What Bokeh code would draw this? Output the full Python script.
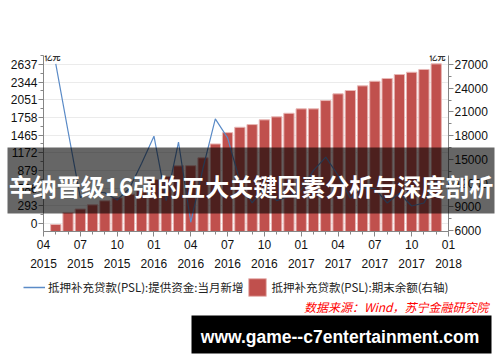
from bokeh.plotting import figure
from bokeh.models import (Range1d, LinearAxis, FixedTicker, Label, BoxAnnotation,
                          Legend, LegendItem, ColumnDataSource, Grid, GridBox)
from bokeh.embed import file_html
from bokeh.resources import INLINE

# ---------------- data ----------------
months = ["2015-05", "2015-06", "2015-07", "2015-08", "2015-09", "2015-10", "2015-11", "2015-12",
          "2016-01", "2016-02", "2016-03", "2016-04", "2016-05", "2016-06", "2016-07", "2016-08",
          "2016-09", "2016-10", "2016-11", "2016-12", "2017-01", "2017-02", "2017-03", "2017-04",
          "2017-05", "2017-06", "2017-07", "2017-08", "2017-09", "2017-10", "2017-11", "2017-12"]
# PSL: 提供资金: 当月新增 (亿元, left axis)
psl_new = [2648, 1530, 430, 530, 510, 390, 580, 1000,
           1447, 380, 1348, 20, 920, 1736, 1420, 700,
           340, 590, 380, 450, 560, 880, 1100, 800,
           420, 590, 580, 340, 500, 290, 340, 710]
# PSL: 期末余额 (亿元, right axis)
psl_balance = [6760, 8290, 8720, 9250, 9760, 10150, 10600, 11100,
               12450, 12830, 14180, 14200, 15200, 16950, 18380, 19060,
               19400, 20000, 20380, 20830, 21390, 21390, 22440, 23290,
               23710, 24300, 24880, 25230, 25730, 26020, 26370, 27080]

left_ticks = [0, 293, 586, 879, 1172, 1465, 1758, 2051, 2344, 2637]
right_ticks = [6000, 9000, 12000, 15000, 18000, 21000, 24000, 27000]
tick_months = ["2015-04", "2015-07", "2015-10", "2016-01", "2016-04", "2016-07",
               "2016-10", "2017-01", "2017-04", "2017-07", "2017-10", "2018-01"]

series_new_name = "抵押补充贷款(PSL):提供资金:当月新增"
series_bal_name = "抵押补充贷款(PSL):期末余额(右轴)"
unit_text = "亿元"
source_text = "数据来源：Wind，苏宁金融研究院"
overlay_title = "辛纳晋级16强的五大关键因素分析与深度剖析"
watermark = "www.game--c7entertainment.com"

LINE_COLOR = "#5B8BC7"
BAR_COLOR = "#C0504D"
BAR_EDGE = "#E8B7B5"


def midx(s):
    y, m = s.split("-")
    return (int(y) - 2015) * 12 + int(m) - 4


x = [midx(m) for m in months]
src = ColumnDataSource(dict(x=x, new=psl_new, bal=psl_balance))

W, H = 500, 362
# ---------------- chart figure ----------------
FL, FR, FT, FB = 43, 52, 55, 131
p = figure(width=W, height=H, output_backend="svg", toolbar_location=None, tools="",
           x_range=Range1d(0, 33), y_range=Range1d(-133, 2786),
           x_axis_type=None, y_axis_type=None,
           min_border_left=FL, min_border_right=FR, min_border_top=FT, min_border_bottom=FB)
p.frame_align = False
p.extra_y_ranges = {"bal": Range1d(5873, 28139)}
p.outline_line_color = None
p.background_fill_color = "white"
p.border_fill_color = "white"

AX_COLOR = "#868686"
LBL_FONT = "Liberation Sans"

minor_left = [t + 146.5 for t in left_ticks]
left_axis = LinearAxis(ticker=FixedTicker(ticks=left_ticks, minor_ticks=minor_left))
minor_right = [t + 1500 for t in right_ticks]
right_axis = LinearAxis(y_range_name="bal",
                        ticker=FixedTicker(ticks=right_ticks, minor_ticks=minor_right))
xt = [midx(m) for m in tick_months]
x_axis = LinearAxis(ticker=FixedTicker(ticks=xt, minor_ticks=list(range(0, 34))))
x_axis.major_label_overrides = {t: m.split("-")[1] + "\n" + m.split("-")[0]
                                for t, m in zip(xt, tick_months)}

for ax in (left_axis, right_axis, x_axis):
    ax.axis_line_color = AX_COLOR
    ax.major_tick_line_color = AX_COLOR
    ax.minor_tick_line_color = AX_COLOR
    ax.major_tick_out = 5
    ax.major_tick_in = 0
    ax.minor_tick_out = 3
    ax.minor_tick_in = 0
    ax.major_label_standoff = 1
    ax.major_label_text_font = LBL_FONT
    ax.major_label_text_font_size = "12px"
    ax.major_label_text_color = "#111111"
x_axis.major_label_standoff = 1
x_axis.major_label_text_line_height = 1.37
p.add_layout(left_axis, "left")
p.add_layout(right_axis, "right")
p.add_layout(x_axis, "below")

p.add_layout(Grid(dimension=1, ticker=left_axis.ticker, grid_line_color="#EBEBEB"))

p.vbar(x="x", top="bal", bottom=0, width=0.84, source=src, y_range_name="bal",
       fill_color=BAR_COLOR, line_color=BAR_EDGE, line_width=1)
p.line("x", "new", source=src, line_color=LINE_COLOR, line_width=1.2)

p.add_layout(Label(x=1, y=H - FB - FT - 1, x_units="screen", y_units="screen",
                   text=unit_text, text_font="Noto Sans CJK SC",
                   text_font_size="8px", text_font_style="bold", text_color="#333333",
                   text_baseline="middle", text_align="left"))
p.add_layout(Label(x=W - FL - FR - 3, y=H - FB - FT - 1, x_units="screen", y_units="screen",
                   text=unit_text, text_font="Noto Sans CJK SC",
                   text_font_size="8px", text_font_style="bold", text_color="#333333",
                   text_baseline="middle", text_align="right"))

# ---------------- decoration layer (full canvas, transparent) ----------------
q = figure(width=W, height=H, output_backend="svg", toolbar_location=None, tools="",
           x_range=Range1d(0, W), y_range=Range1d(H, 0),
           x_axis_type=None, y_axis_type=None, min_border=0)
q.frame_align = False
q.outline_line_color = None
q.background_fill_alpha = 0
q.border_fill_alpha = 0

# legend glyph stand-ins (styled like the chart's series; they hold no drawable point)
nan = float("nan")
leg_line = q.line(x=[nan], y=[nan], line_color=LINE_COLOR, line_width=1.5)
leg_bar = q.vbar(x=[nan], top=[nan], width=1, fill_color=BAR_COLOR, line_color=BAR_EDGE)
legend = Legend(items=[LegendItem(label=series_new_name, renderers=[leg_line]),
                       LegendItem(label=series_bal_name, renderers=[leg_bar])],
                location=(23, H - 297.5), orientation="horizontal",
                padding=0, margin=0, spacing=3, label_standoff=3,
                glyph_width=22, glyph_height=22, label_height=22,
                border_line_color=None, background_fill_alpha=0,
                label_text_font="Noto Sans CJK SC", label_text_font_size="11.5px",
                label_text_color="#222222")
q.add_layout(legend)

q.add_layout(Label(x=488, y=306, text=source_text,
                   text_font="Noto Sans CJK SC", text_font_size="12px",
                   text_font_style="italic", text_color="#FF0000",
                   text_align="right", text_baseline="middle"))

q.add_layout(BoxAnnotation(left=7, right=494, top=147, bottom=213,
                           fill_color="black", fill_alpha=0.6, line_color=None))
q.add_layout(Label(x=250.5, y=185, text=overlay_title,
                   text_font="Noto Sans CJK SC", text_font_size="24px",
                   text_font_style="bold", text_color="white",
                   text_align="center", text_baseline="middle"))

q.add_layout(BoxAnnotation(left=191, right=491, top=315, bottom=353,
                           fill_color="black", fill_alpha=1.0, line_color=None))
q.add_layout(Label(x=339.5, y=336.5, text=watermark,
                   text_font="Liberation Sans", text_font_size="17.5px",
                   text_font_style="bold", text_color="white",
                   text_align="center", text_baseline="middle"))

layout = GridBox(children=[(p, 0, 0), (q, 0, 0)], width=W, height=H)

open("out.html", "w").write(file_html(layout, INLINE))
